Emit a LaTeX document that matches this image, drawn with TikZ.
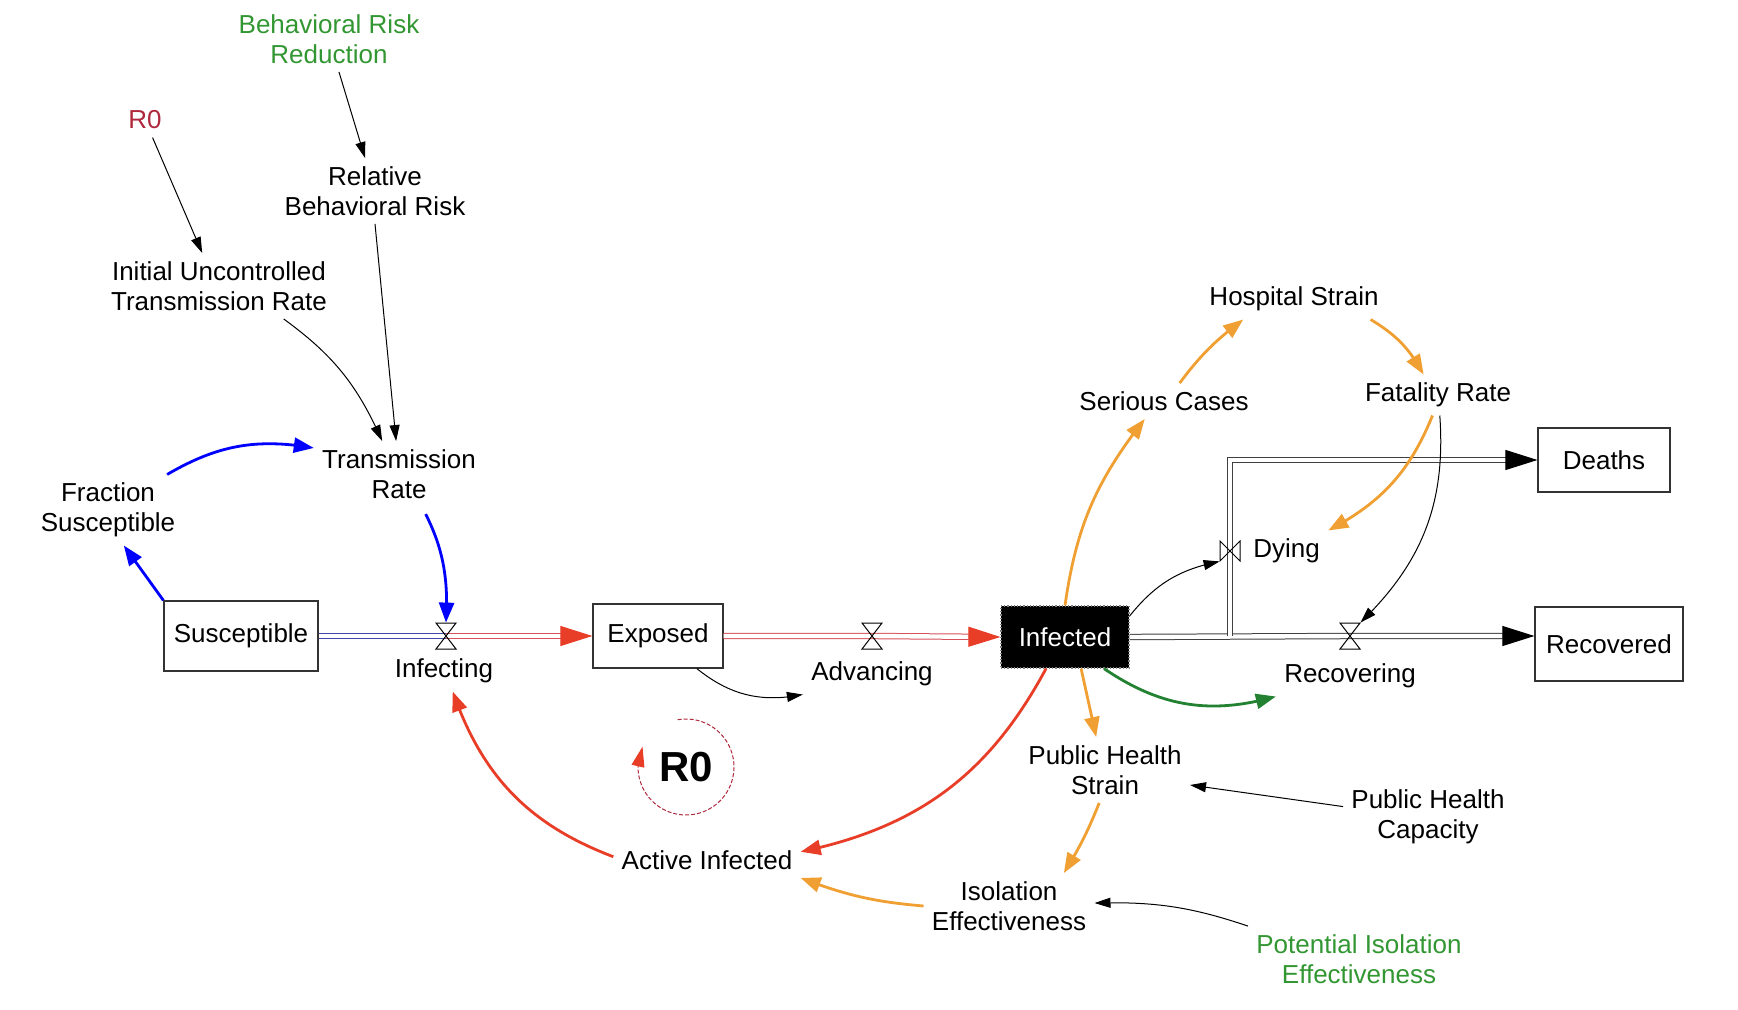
\documentclass[tikz,border=0pt]{standalone}
\usepackage{fontspec}
\setmainfont{Liberation Sans}
\usetikzlibrary{arrows.meta,bending,calc}

\definecolor{flowred}{RGB}{232,62,40}
\definecolor{linkorange}{RGB}{240,160,50}
\definecolor{linkgreen}{RGB}{35,130,50}
\definecolor{textgreen}{RGB}{50,150,50}
\definecolor{textred}{RGB}{175,40,60}
\definecolor{pipeblue}{RGB}{70,70,170}
\definecolor{pipered}{RGB}{215,80,90}

\tikzset{
  var/.style={align=center, inner sep=4pt, font=\fontsize{13}{15}\selectfont},
  stock/.style={draw=black!80, line width=0.6pt, inner sep=3pt, font=\fontsize{13}{15}\selectfont},
  valvebox/.style={inner sep=0pt, minimum width=10pt, minimum height=13pt},
  pipe/.style={double=white, double distance=2.2pt, line width=0.5pt},
  flowtip/.style={-{Triangle[length=16pt,width=10pt,color=black]}},
  link/.style={line width=0.5pt, -{Triangle[length=8pt,width=5pt]}},
  blink/.style={line width=1.4pt, -{Triangle[length=10pt,width=7.5pt]}},
  looparc/.style={line width=0.5pt, dash pattern=on 2pt off 1pt, textred, -{Triangle[flex, length=10pt,width=6.5pt,color=flowred]}}
}
\newcommand{\hvalve}[1]{\draw[line width=0.5pt] (#1) ++(-10,13) -- ++(20,0) -- ++(-20,-26) -- ++(20,0) -- cycle;}
\newcommand{\vvalve}[1]{\draw[line width=0.5pt] (#1) ++(-10,10) -- ++(0,-20) -- ++(20,20) -- ++(0,-20) -- cycle;}

\begin{document}
\begin{tikzpicture}[x=0.5pt, y=0.5pt]
  \useasboundingbox (0,0) rectangle (1738,-1010);
  % stocks
  \node[stock, minimum width=77pt, minimum height=35pt] (sus) at (241,-636) {Susceptible};
  \node[stock, minimum width=65pt, minimum height=32pt] (exp) at (658,-636) {Exposed};
  \node[stock, minimum width=64pt, minimum height=31pt, fill=black, draw=gray, densely dotted, text=white] (inf) at (1065,-637) {Infected};
  \node[stock, minimum width=66pt, minimum height=32pt] (dea) at (1604,-460) {Deaths};
  \node[stock, minimum width=74pt, minimum height=37pt] (rec) at (1609,-644) {Recovered};
  % valves
  \node[valvebox] (infv) at (446,-636) {};
  \node[valvebox] (advv) at (872,-636) {};
  \node[valvebox] (recv) at (1350,-636) {};
  \node[valvebox, minimum height=10pt] (dyv) at (1230,-551) {};
  \coordinate (split) at (1230,-636);
  % flows
  \draw[pipe, pipeblue] (sus.east) -- (infv.center);
  \draw[pipe, pipered, -{Triangle[length=16pt,width=10pt,color=flowred]}] (infv.center) -- (exp.west);
  \draw[pipe, pipered, -{Triangle[length=16pt,width=10pt,color=flowred]}] (exp.east) -- (advv.center) -- (inf.west);
  \draw[pipe, black!75, flowtip] (inf.east) -- (recv.center) -- (recv.center -| rec.west);
  \draw[pipe, black!75, flowtip] (split) -- (dyv.center) -- (split |- dea.west) -- (dea.west);
  \hvalve{infv}
  \hvalve{advv}
  \hvalve{recv}
  \vvalve{dyv}
  % variables
  \node[var, text=textgreen] (brr) at (329,-39) {Behavioral Risk\\Reduction};
  \node[var, text=textred] (rzero) at (145,-120) {R0};
  \node[var] (rbr) at (375,-191) {Relative\\Behavioral Risk};
  \node[var] (iutr) at (219,-286) {Initial Uncontrolled\\Transmission Rate};
  \node[var] (trate) at (399,-474) {Transmission\\Rate};
  \node[var] (fsus) at (108,-510) {Fraction\\Susceptible};
  \node[var] (infl) at (444,-671) {Infecting};
  \node[var] (advl) at (872,-674) {Advancing};
  \node[var, anchor=west] (dyl) at (1245,-551) {Dying};
  \node[var] (recl) at (1350,-676) {Recovering};
  \node[var] (sc) at (1164,-401) {Serious Cases};
  \node[var] (hs) at (1294,-299) {Hospital Strain};
  \node[var] (fr) at (1438,-395) {Fatality Rate};
  \node[var] (phs) at (1105,-770) {Public Health\\Strain};
  \node[var] (phc) at (1428,-817) {Public Health\\Capacity};
  \node[var] (ie) at (1009,-906) {Isolation\\Effectiveness};
  \node[var, text=textgreen] (pie) at (1359,-959) {Potential Isolation\\Effectiveness};
  \node[var] (ai) at (707,-860) {Active Infected};
  \node[font=\fontsize{21}{24}\selectfont\bfseries] (lp) at (686,-767) {R0};
  % links
  \draw[link] (brr) -- (rbr);
  \draw[link] (rzero) -- (iutr.117);
  \draw[link] (rbr.south) -- (trate.95);
  \draw[link] (iutr.-27) to[bend left=15] (trate.117);
  \draw[blink, blue] (fsus.31) to[bend left=20] (trate.163);
  \draw[blink, blue] (sus.north west) -- (fsus.-66);
  \draw[blink, blue, shorten <=4pt] (trate.-55) to[bend left=15] (infv.north);
  \draw[link] (exp.-40) to[bend right=25] (advl.south west);
  \draw[link] (inf.18) to[bend left=20] (dyv.south west);
  \draw[blink, linkorange] (fr.-105) to[bend left=20] (dyl.north east);
  \draw[link] (fr.-85) to[bend left=25] (recv.north east);
  \draw[blink, linkorange] (inf.north) to[bend left=15] (sc.-137);
  \draw[blink, linkorange] (sc.49) to[bend left=8] (hs.-158);
  \draw[blink, linkorange] (hs.-15) to[bend left=15] (fr.125);
  \draw[blink, linkorange] (inf.-63) -- (phs.105);
  \draw[blink, linkgreen] (inf.-39) to[bend right=25] (recl.south west);
  \draw[blink, flowred] (inf.-121) to[bend left=25] (ai.5);
  \draw[blink, linkorange] (phs.-100) to[bend left=5] (ie.31);
  \draw[link] (phc.173) -- (phs.-10);
  \draw[link] (pie.north west) to[bend right=10] (ie.2);
  \draw[blink, linkorange] (ie.180) to[bend left=8] (ai.south east);
  \draw[blink, flowred] (ai.178) to[bend left=25] (infl.-67);
  % loop
  \draw[looparc] (lp.center) ++(100:48) arc[start angle=100, end angle=-205, radius=48];
\end{tikzpicture}
\end{document}
